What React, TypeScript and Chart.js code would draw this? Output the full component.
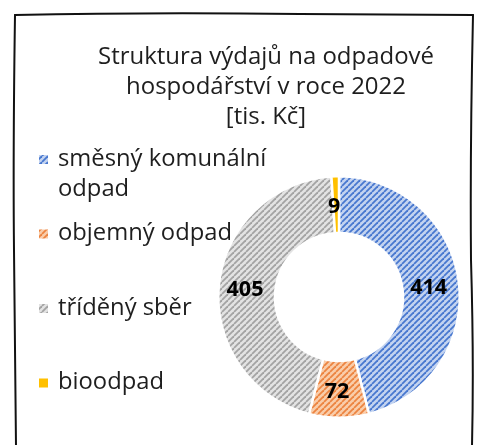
import React, { useEffect, useRef } from 'react';
import { Chart, registerables } from 'chart.js';

Chart.register(...registerables);

const titleLines = ['Struktura výdajů na odpadové', 'hospodářství v roce 2022', '[tis. Kč]'];
const categories = ['směsný komunální odpad', 'objemný odpad', 'tříděný sběr', 'bioodpad'];
const values = [414, 72, 405, 9];
const baseColors = ['#c3d3f0', '#f9cdaa', '#e3e3e3', '#ffc000'];
const stripeColors = ['#4777cf', '#ec8440', '#a3a3a3', '#ffc000'];

const FONT = '"Open Sans", Lato, sans-serif';

function makePattern(ctx: CanvasRenderingContext2D, base: string, stripe: string) {
  const c = document.createElement('canvas');
  c.width = 6;
  c.height = 6;
  const g = c.getContext('2d')!;
  g.fillStyle = base;
  g.fillRect(0, 0, 6, 6);
  g.strokeStyle = stripe;
  g.lineWidth = 1.8;
  for (const k of [-6, 0, 6]) {
    g.beginPath();
    g.moveTo(k, 6);
    g.lineTo(k + 6, 0);
    g.stroke();
  }
  return ctx.createPattern(c, 'repeat')!;
}

function wrap(ctx: CanvasRenderingContext2D, text: string, maxW: number): string[] {
  const words = text.split(' ');
  const lines: string[] = [];
  let cur = '';
  for (const w of words) {
    const t = cur ? cur + ' ' + w : w;
    if (ctx.measureText(t).width > maxW && cur) {
      lines.push(cur);
      cur = w;
    } else cur = t;
  }
  if (cur) lines.push(cur);
  return lines;
}

function fitFont(ctx: CanvasRenderingContext2D, text: string, target: number, weight = '') {
  ctx.font = `${weight} 20px ${FONT}`;
  const w = ctx.measureText(text).width;
  const size = (20 * target) / w;
  return `${weight} ${size.toFixed(2)}px ${FONT}`;
}

const framePlugin = {
  id: 'frame',
  beforeDraw(chart: any) {
    const ctx = chart.ctx as CanvasRenderingContext2D;
    ctx.save();
    ctx.strokeStyle = '#111';
    ctx.lineWidth = 2;
    ctx.lineCap = 'round';
    ctx.beginPath();
    ctx.moveTo(15, 15);
    ctx.quadraticCurveTo(150, 12, 300, 14);
    ctx.quadraticCurveTo(420, 15, 473, 15);
    ctx.stroke();
    ctx.beginPath();
    ctx.moveTo(15, 15);
    ctx.quadraticCurveTo(13, 150, 14, 250);
    ctx.quadraticCurveTo(15, 360, 16, 446);
    ctx.stroke();
    ctx.beginPath();
    ctx.moveTo(473, 15);
    ctx.quadraticCurveTo(470, 150, 471, 260);
    ctx.quadraticCurveTo(474, 360, 472, 446);
    ctx.stroke();
    ctx.restore();
  },
};

const textPlugin = {
  id: 'texts',
  afterDraw(chart: any) {
    const ctx = chart.ctx as CanvasRenderingContext2D;
    ctx.save();
    // title
    ctx.fillStyle = '#1e1e1e';
    ctx.font = fitFont(ctx, titleLines[0], 336);
    ctx.textAlign = 'center';
    ctx.textBaseline = 'middle';
    titleLines.forEach((l, i) => ctx.fillText(l, 266, 57 + i * 30));
    // legend
    ctx.textAlign = 'left';
    ctx.font = fitFont(ctx, categories[1], 174);
    const ds = chart.data.datasets[0];
    const startY = 159;
    const step = 74.5;
    categories.forEach((cat, i) => {
      const y = startY + i * step;
      ctx.fillStyle = ds.backgroundColor[i];
      ctx.fillRect(39, y - 4, 9, 9);
      ctx.fillStyle = '#1e1e1e';
      const lines = wrap(ctx, cat, 225);
      lines.forEach((ln, j) => ctx.fillText(ln, 58, y + j * 30));
    });
    // data labels
    ctx.font = fitFont(ctx, '414', 37, 'bold');
    ctx.textAlign = 'center';
    ctx.fillStyle = '#000';
    const meta = chart.getDatasetMeta(0);
    meta.data.forEach((arc: any, i: number) => {
      const p = arc.tooltipPosition();
      ctx.fillText(String(values[i]), p.x - 2, p.y + 2);
    });
    ctx.restore();
  },
};

export default function App() {
  const ref = useRef<HTMLCanvasElement>(null);
  useEffect(() => {
    document.body.style.margin = '0';
    const canvas = ref.current!;
    const ctx = canvas.getContext('2d')!;
    const patterns = baseColors.map((b, i) => makePattern(ctx, b, stripeColors[i]));
    const chart = new Chart(canvas, {
      type: 'doughnut',
      data: {
        labels: categories,
        datasets: [
          {
            data: values,
            backgroundColor: patterns as any,
            borderColor: '#ffffff',
            borderWidth: 2.5,
          },
        ],
      },
      options: {
        animation: false,
        responsive: false,
        cutout: '53%',
        layout: { padding: { left: 217, right: 20, top: 175, bottom: 26 } },
        plugins: {
          legend: { display: false },
          title: { display: false },
          tooltip: { enabled: false },
        },
      },
      plugins: [framePlugin, textPlugin],
    });
    return () => chart.destroy();
  }, []);
  return <canvas ref={ref} width={481} height={445} style={{ display: 'block' }} />;
}
